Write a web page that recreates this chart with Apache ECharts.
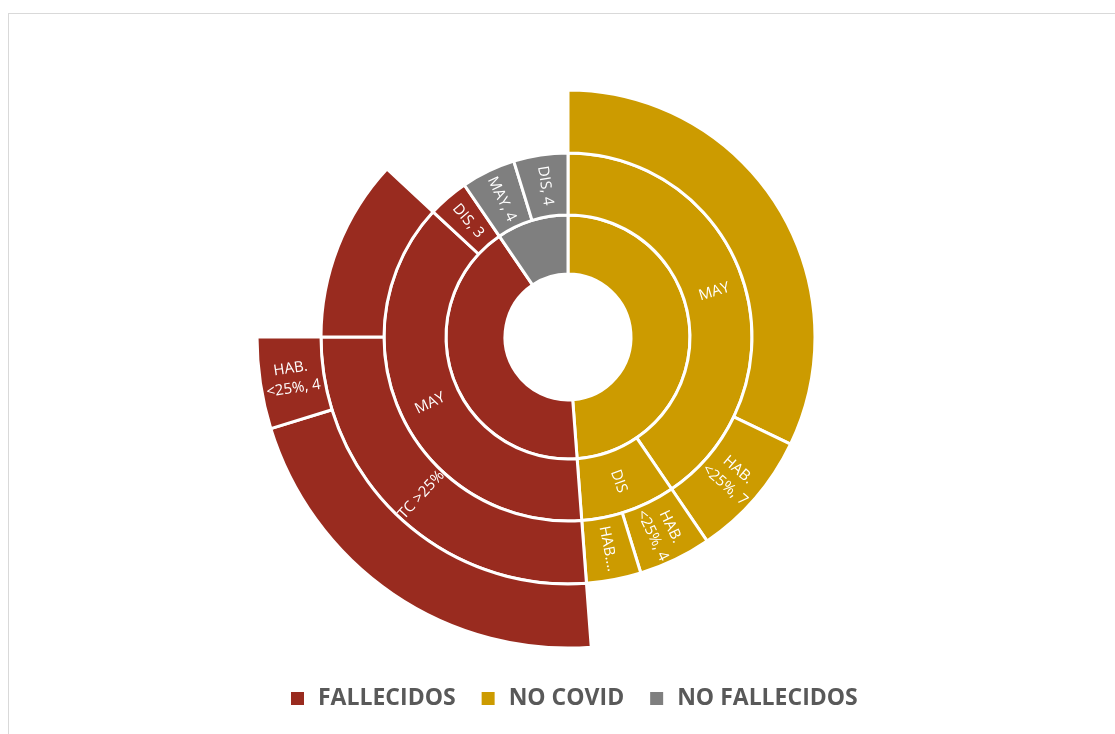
<!DOCTYPE html>
<html>
<head>
<meta charset="utf-8">
<script src="https://cdn.jsdelivr.net/npm/echarts@6/dist/echarts.min.js"></script>
<style>
  html, body { margin: 0; padding: 0; background: #fff; }
  #frame { position: absolute; left: 8px; top: 13px; width: 1300px; height: 900px;
           border-left: 1px solid #d9d9d9; border-top: 1px solid #d9d9d9; }
  #chart { position: absolute; left: 0; top: 0; width: 1115px; height: 734px; }
</style>
</head>
<body>
<div id="frame"></div>
<div id="chart"></div>
<script>
// Top-level groups, in drawing order (clockwise from 12 o'clock)
const groups = ['NO COVID', 'FALLECIDOS', 'NO FALLECIDOS'];
const groupColors = { 'NO COVID': '#CC9B00', 'FALLECIDOS': '#992B1F', 'NO FALLECIDOS': '#7F7F7F' };
const legendOrder = ['FALLECIDOS', 'NO COVID', 'NO FALLECIDOS'];

// NO COVID > MAY / DIS
const noCovidMay = [['', 27], ['HAB. <25%', 7]];
const noCovidDis = [['HAB. <25%', 4], ['HAB....', 3]];

// FALLECIDOS > MAY > TC >25%, plus the remainder of MAY and DIS
const fallecidosTc = [['', 18], ['HAB. <25%', 4]];
const fallecidosMayRest = 10;
const fallecidosDis = 3;

// NO FALLECIDOS
const noFallecidos = [['MAY', 4], ['DIS', 4]];

const leaf = ([name, value]) => ({ name, value });

const tree = [
  { name: 'NO COVID', children: [
      { name: 'MAY', children: noCovidMay.map(leaf) },
      { name: 'DIS', children: noCovidDis.map(leaf) }
  ]},
  { name: 'FALLECIDOS', children: [
      { name: 'MAY', children: [
          { name: 'TC >25%', children: fallecidosTc.map(leaf) },
          { name: '', value: fallecidosMayRest }
      ]},
      { name: 'DIS', value: fallecidosDis }
  ]},
  { name: 'NO FALLECIDOS', children: noFallecidos.map(leaf) }
];

function sumNode(n) {
  return n.children ? n.children.reduce((s, c) => s + sumNode(c), 0) : n.value;
}

// every descendant takes the colour of its group
function paint(n, color) {
  n.itemStyle = { color };
  (n.children || []).forEach(c => paint(c, color));
}
tree.forEach(n => paint(n, groupColors[n.name]));

const labelText = p => {
  const n = p.data.name;
  if (!n) return '';
  if (p.data.children || n.endsWith('....')) return n;
  return n.replace('. ', '.\n') + ', ' + p.value;
};

const chart = echarts.init(document.getElementById('chart'), null, { renderer: 'canvas' });
const cx = 568, cy = 337;

chart.setOption({
  animation: false,
  legend: {
    data: legendOrder,
    left: 286,
    top: 682,
    icon: 'rect',
    itemWidth: 13,
    itemHeight: 13,
    itemGap: 26,
    selectedMode: false,
    textStyle: { fontFamily: 'Open Sans', fontSize: 23, fontWeight: 'bold', color: '#595959',
                 padding: [0, 0, 0, 9] }
  },
  series: [
    {
      type: 'sunburst',
      center: [cx, cy],
      sort: null,
      startAngle: 90,
      nodeClick: false,
      emphasis: { disabled: true },
      data: tree,
      itemStyle: { borderColor: '#fff', borderWidth: 3 },
      label: {
        rotate: 'radial',
        color: '#fff',
        fontFamily: 'Open Sans',
        fontSize: 15,
        lineHeight: 20,
        align: 'center',
        formatter: labelText
      },
      levels: [
        {},
        { r0: 63, r: 122, label: { show: false } },
        { r0: 122, r: 184 },
        { r0: 184, r: 247 },
        { r0: 247, r: 311 }
      ]
    },
    {
      // carries the group names for the legend only
      type: 'pie',
      center: [cx, cy],
      radius: [0, 0],
      silent: true,
      label: { show: false },
      labelLine: { show: false },
      data: legendOrder.map(g => ({
        name: g,
        value: sumNode(tree.find(n => n.name === g)),
        itemStyle: { color: groupColors[g] }
      }))
    }
  ]
});
</script>
</body>
</html>
